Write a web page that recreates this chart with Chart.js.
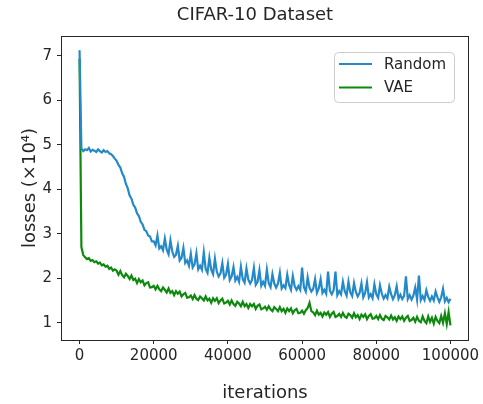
<!DOCTYPE html>
<html lang="en">
<head>
  <meta charset="UTF-8">
  <title>CIFAR-10 Dataset</title>
  <script src="https://cdn.jsdelivr.net/npm/chart.js"></script>
  <style>
    body { margin: 0; background: #fff; }
    #wrap { width: 483px; height: 404px; }
  </style>
</head>
<body>
  <div id="wrap"><canvas id="lossChart"></canvas></div>

  <script>
    // losses in units of 1e4, one value every 500 iterations (0 .. 100000)
    const iterStep = 500;
    const seriesNames = ['Random', 'VAE'];
    const chartTitle = 'CIFAR-10 Dataset';
    const xTicks = [0, 20000, 40000, 60000, 80000, 100000];
    const yTicks = [1, 2, 3, 4, 5, 6, 7];

    const randomLoss = [
      7.13, 4.92, 4.86, 4.90, 4.88, 4.93, 4.85, 4.89, 4.87, 4.84,
      4.90, 4.86, 4.83, 4.88, 4.84, 4.86, 4.81, 4.79, 4.75, 4.69,
      4.64, 4.55, 4.49, 4.36, 4.28, 4.12, 4.02, 3.86, 3.79, 3.65,
      3.59, 3.46, 3.40, 3.27, 3.21, 3.09, 3.06, 2.96, 2.94, 2.83,
      2.83, 2.74, 2.96, 2.67, 2.72, 2.63, 2.89, 2.64, 2.54, 2.85,
      2.60, 2.48, 2.53, 2.73, 2.40, 2.46, 2.68, 2.34, 2.40, 2.28,
      2.55, 2.24, 2.31, 2.56, 2.20, 2.28, 2.19, 2.58, 2.21, 2.12,
      2.46, 2.19, 2.09, 2.44, 2.15, 2.04, 2.11, 2.34, 2.01, 2.08,
      2.32, 1.96, 2.04, 2.25, 1.95, 2.03, 1.92, 2.26, 1.98, 1.90,
      2.22, 1.97, 1.88, 1.96, 2.23, 1.85, 1.92, 2.18, 1.83, 1.92,
      1.83, 2.19, 1.89, 1.80, 2.09, 1.88, 1.79, 1.88, 2.12, 1.77,
      1.84, 1.78, 2.08, 1.85, 1.74, 2.05, 1.82, 1.74, 1.82, 1.74,
      2.24, 1.80, 1.70, 2.02, 1.79, 1.70, 1.76, 1.98, 1.67, 1.77,
      1.98, 1.67, 1.74, 1.65, 2.15, 1.72, 1.64, 1.73, 2.15, 1.62,
      1.71, 1.64, 1.92, 1.71, 1.61, 1.92, 1.68, 1.60, 1.89, 1.69,
      1.59, 1.67, 1.88, 1.57, 1.67, 1.91, 1.57, 1.64, 1.55, 1.86,
      1.64, 1.56, 1.84, 1.65, 1.54, 1.62, 1.55, 1.81, 1.64, 1.53,
      1.62, 1.82, 1.54, 1.63, 1.53, 1.60, 2.04, 1.53, 1.62, 1.52,
      1.61, 1.79, 1.52, 2.06, 1.51, 1.60, 1.51, 1.73, 1.58, 1.49,
      1.59, 1.50, 1.70, 1.57, 1.47, 1.57, 1.76, 1.48, 1.56, 1.46,
      1.54
    ];

    const vaeLoss = [
      6.94, 2.70, 2.52, 2.47, 2.43, 2.45, 2.39, 2.41, 2.36, 2.38,
      2.33, 2.35, 2.29, 2.31, 2.26, 2.28, 2.21, 2.24, 2.17, 2.20,
      2.17, 2.08, 2.16, 2.07, 2.02, 2.10, 2.05, 1.98, 2.06, 1.96,
      1.99, 1.89, 1.98, 1.91, 1.95, 1.84, 1.89, 1.91, 1.79, 1.80,
      1.83, 1.75, 1.83, 1.75, 1.71, 1.79, 1.74, 1.68, 1.77, 1.67,
      1.71, 1.62, 1.71, 1.65, 1.70, 1.59, 1.64, 1.67, 1.56, 1.57,
      1.61, 1.53, 1.62, 1.54, 1.51, 1.59, 1.55, 1.50, 1.59, 1.50,
      1.54, 1.45, 1.55, 1.49, 1.55, 1.44, 1.50, 1.54, 1.43, 1.45,
      1.49, 1.41, 1.50, 1.42, 1.38, 1.47, 1.43, 1.37, 1.47, 1.37,
      1.42, 1.33, 1.42, 1.37, 1.42, 1.31, 1.38, 1.41, 1.30, 1.32,
      1.36, 1.29, 1.37, 1.30, 1.26, 1.35, 1.31, 1.26, 1.35, 1.26,
      1.31, 1.22, 1.32, 1.26, 1.32, 1.21, 1.28, 1.31, 1.21, 1.22,
      1.27, 1.20, 1.28, 1.33, 1.45, 1.26, 1.23, 1.17, 1.27, 1.18,
      1.22, 1.14, 1.23, 1.18, 1.24, 1.13, 1.20, 1.24, 1.13, 1.15,
      1.20, 1.13, 1.22, 1.14, 1.11, 1.20, 1.17, 1.11, 1.21, 1.12,
      1.17, 1.08, 1.18, 1.13, 1.19, 1.08, 1.15, 1.19, 1.09, 1.10,
      1.15, 1.08, 1.17, 1.09, 1.06, 1.15, 1.12, 1.07, 1.16, 1.07,
      1.12, 1.04, 1.14, 1.08, 1.14, 1.04, 1.11, 1.15, 1.04, 1.06,
      1.11, 1.02, 1.13, 1.04, 1.01, 1.14, 1.04, 0.99, 1.14, 1.02,
      1.11, 0.98, 1.13, 1.04, 0.99, 1.15, 1.00, 1.21, 0.97, 1.24,
      0.94
    ];

    const toPoints = arr => arr.map((v, i) => ({ x: i * iterStep, y: v }));
    const ink = '#262626';
    const font = 'DejaVu Sans';

    // frame round the plot area + title (matplotlib puts it over the axes, not the canvas)
    const framePlugin = {
      id: 'frame',
      afterDatasetsDraw(chart) {
        const { ctx, chartArea: a } = chart;
        ctx.save();
        ctx.strokeStyle = ink;
        ctx.lineWidth = 1;
        ctx.strokeRect(Math.round(a.left) + 0.5, Math.round(a.top) + 0.5,
          Math.round(a.right - a.left) - 1, Math.round(a.bottom - a.top));
        ctx.fillStyle = ink;
        ctx.font = '18px "' + font + '"';
        ctx.textAlign = 'center';
        ctx.textBaseline = 'middle';
        ctx.fillText(chartTitle, 255, 15);
        ctx.restore();
      }
    };

    // legend box inside the plot, upper right
    const boxLegend = {
      id: 'boxLegend',
      afterDatasetsDraw(chart) {
        const { ctx } = chart;
        const x = 334, y = 52, w = 120, h = 50;
        ctx.save();
        ctx.beginPath();
        ctx.roundRect(x + 0.5, y + 0.5, w, h, 4);
        ctx.fillStyle = 'rgba(255,255,255,0.85)';
        ctx.fill();
        ctx.strokeStyle = '#cccccc';
        ctx.lineWidth = 1;
        ctx.stroke();
        ctx.font = '15px "' + font + '"';
        ctx.textBaseline = 'middle';
        chart.data.datasets.forEach((ds, i) => {
          const ly = 64 + i * 23.5;
          ctx.strokeStyle = ds.borderColor;
          ctx.lineWidth = 2;
          ctx.beginPath();
          ctx.moveTo(339, ly);
          ctx.lineTo(372, ly);
          ctx.stroke();
          ctx.fillStyle = ink;
          ctx.fillText(ds.label, 384, ly + 1);
        });
        ctx.restore();
      }
    };

    new Chart(document.getElementById('lossChart'), {
      type: 'line',
      data: {
        datasets: [
          { label: seriesNames[0], data: toPoints(randomLoss), borderColor: '#2489c9', borderWidth: 2.2 },
          { label: seriesNames[1], data: toPoints(vaeLoss), borderColor: '#0d8a0d', borderWidth: 2.2 }
        ]
      },
      options: {
        responsive: true,
        maintainAspectRatio: false,
        animation: false,
        layout: { padding: { left: 0, right: 14, top: 36, bottom: 0 } },
        elements: { point: { radius: 0 }, line: { tension: 0 } },
        plugins: {
          legend: { display: false },
          tooltip: { enabled: false },
          title: { display: false }
        },
        scales: {
          x: {
            type: 'linear',
            min: -5000,
            max: 105000,
            afterBuildTicks: s => { s.ticks = xTicks.map(v => ({ value: v })); },
            afterFit: s => { s.height = 64; },
            grid: { drawOnChartArea: false, tickLength: 4, color: ink },
            border: { display: false },
            ticks: { color: ink, font: { family: font, size: 15 }, padding: 3, maxRotation: 0, autoSkip: false,
                     callback: v => String(v) },
            title: { display: true, text: 'iterations', color: ink, font: { family: font, size: 18 }, padding: { bottom: 0 } }
          },
          y: {
            min: 0.61,
            max: 7.45,
            afterBuildTicks: s => { s.ticks = yTicks.map(v => ({ value: v })); },
            afterFit: s => { s.width = 61; },
            grid: { drawOnChartArea: false, tickLength: 4, color: ink },
            border: { display: false },
            ticks: { color: ink, font: { family: font, size: 15 }, padding: 5 },
            title: { display: true, text: 'losses (×10⁴)', color: ink, font: { family: font, size: 18 }, padding: { top: 20 } }
          }
        }
      },
      plugins: [framePlugin, boxLegend]
    });
  </script>
</body>
</html>
